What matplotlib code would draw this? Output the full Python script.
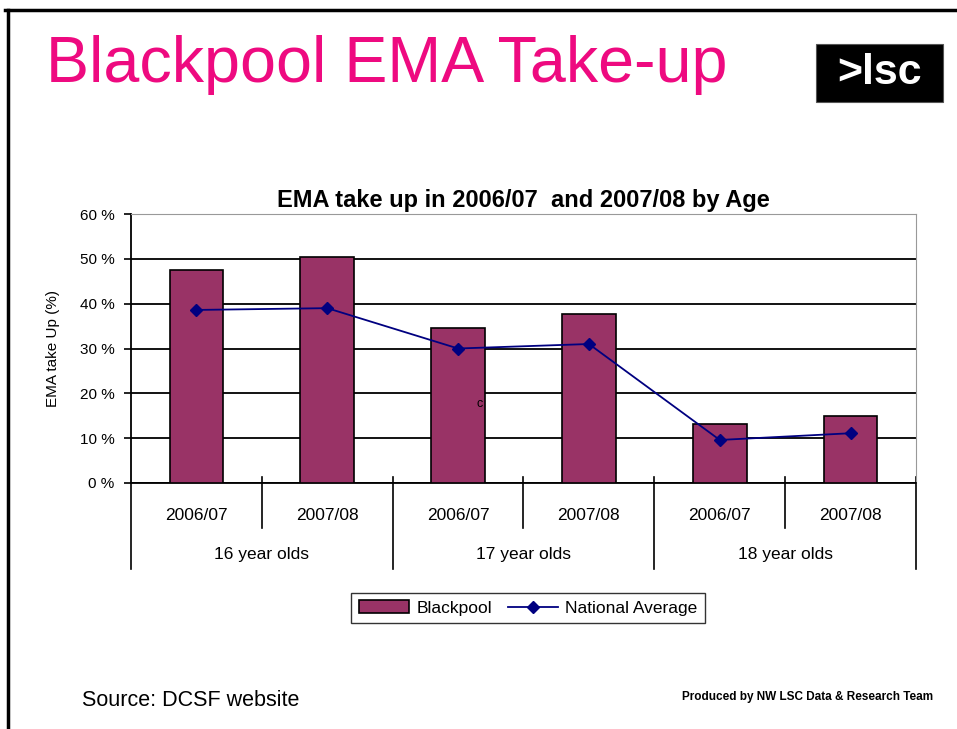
import matplotlib
matplotlib.use("Agg")
import matplotlib.pyplot as plt
from matplotlib.patches import Rectangle
from matplotlib.lines import Line2D
import numpy as np

plt.rcParams["font.family"] = ["Liberation Sans", "DejaVu Sans"]

# data
YEARS = ["2006/07", "2007/08", "2006/07", "2007/08", "2006/07", "2007/08"]
AGE_GROUPS = ["16 year olds", "17 year olds", "18 year olds"]
BLACKPOOL = [47.5, 50.5, 34.5, 37.7, 13.2, 15.0]
NATIONAL = [38.6, 39.0, 30.0, 31.0, 9.6, 11.1]
Y_TICKS = [0, 10, 20, 30, 40, 50, 60]

BAR_COLOR = "#993366"
LINE_COLOR = "#000080"
PINK = "#EE0A80"

W, H = 957, 729
fig = plt.figure(figsize=(W / 100, H / 100), dpi=100)
fig.patch.set_facecolor("white")


def fx(px):
    return px / W


def fy(py):
    return 1 - py / H


# slide frame (top and left edges)
fig.add_artist(Line2D([fx(5), fx(957)], [fy(10), fy(10)], color="black", lw=2.5))
fig.add_artist(Line2D([fx(8), fx(8)], [fy(10), fy(729)], color="black", lw=2.5))

# slide title
fig.text(fx(46), fy(65), "Blackpool EMA Take-up", color=PINK, fontsize=46.5,
         ha="left", va="center")

# lsc logo
fig.add_artist(Rectangle((fx(816), fy(102)), fx(127), (102 - 44) / H,
                         facecolor="black", edgecolor="#555555", lw=0.8))
fig.text(fx(880), fy(73), ">lsc", color="white", fontsize=31, fontweight="bold",
         ha="center", va="center")

# chart
left, right, top, bottom = 131, 916, 214, 483
ax = fig.add_axes([fx(left), fy(bottom), fx(right - left), (bottom - top) / H])
x = np.arange(len(BLACKPOOL))
bars = ax.bar(x, BLACKPOOL, width=0.41, color=BAR_COLOR, edgecolor="black", lw=1.2,
              zorder=3, label="Blackpool")
line, = ax.plot(x, NATIONAL, color=LINE_COLOR, lw=1.3, marker="D", markersize=6,
                zorder=4, label="National Average")

ax.set_xlim(-0.5, len(x) - 0.5)
ax.set_ylim(0, 60)
ax.set_yticks(Y_TICKS)
ax.set_yticklabels([f"{v} %" for v in Y_TICKS], fontsize=11)
ax.yaxis.grid(True, color="black", lw=1.3, zorder=1)
ax.set_xticks([])
ax.tick_params(axis="y", direction="out", length=5, width=1.2, pad=7)
for s in ["top", "right"]:
    ax.spines[s].set_color("#999999")
ax.spines["left"].set_linewidth(1.3)
ax.spines["bottom"].set_linewidth(1.3)
ax.set_ylabel("EMA take Up (%)", fontsize=11, labelpad=14)
ax.set_title("EMA take up in 2006/07  and 2007/08 by Age", fontsize=17,
             fontweight="bold", pad=5)

# two-level category axis
ah = bottom - top
tr = ax.get_xaxis_transform()
for b in [0.5, 2.5, 4.5]:
    ax.plot([b, b], [6 / ah, -45 / ah], transform=tr, color="black", lw=1.2,
            clip_on=False)
for b in [-0.5, 1.5, 3.5, 5.5]:
    ax.plot([b, b], [0 if b == -0.5 else 6 / ah, -86 / ah], transform=tr,
            color="black", lw=1.2, clip_on=False)
for i, lab in enumerate(YEARS):
    ax.text(i, -32 / ah, lab, transform=tr, ha="center", va="center", fontsize=12.5)
for g, lab in enumerate(AGE_GROUPS):
    ax.text(2 * g + 0.5, -72 / ah, lab, transform=tr, ha="center", va="center",
            fontsize=12.5)

# stray character on the slide
fig.text(fx(480), fy(404), "c", fontsize=9, ha="center", va="center")

fig.legend([bars, line], ["Blackpool", "National Average"], loc="center",
           bbox_to_anchor=(fx(528), fy(608)), ncol=2, fontsize=12.5,
           frameon=True, fancybox=False, edgecolor="black", handlelength=2.9,
           columnspacing=0.9, handletextpad=0.4, borderpad=0.45)

fig.text(fx(82), fy(700), "Source: DCSF website", fontsize=15.5, ha="left",
         va="center")
fig.text(fx(933), fy(697), "Produced by NW LSC Data & Research Team", fontsize=8.5,
         fontweight="bold", ha="right", va="center")

fig.savefig("out.png", dpi=100)
